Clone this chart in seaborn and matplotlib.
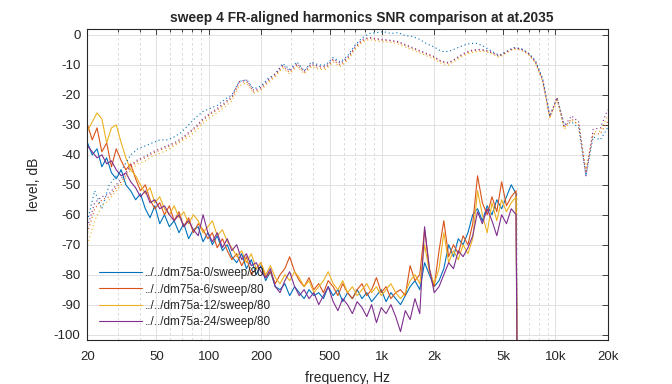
import numpy as np
import pandas as pd
import matplotlib
matplotlib.use("Agg")
import matplotlib.pyplot as plt
import seaborn as sns
from matplotlib.ticker import FixedLocator, FixedFormatter, NullFormatter

# ---------------- data ----------------
names = ["../../dm75a-0/sweep/80", "../../dm75a-6/sweep/80",
         "../../dm75a-12/sweep/80", "../../dm75a-24/sweep/80"]
colors = ["#0072BD", "#D95319", "#EDB120", "#7E2F8E"]

# harmonics (solid) frequency grid, Hz
freq_h = [20.0, 21.3, 22.7, 24.2, 25.8, 27.5, 29.3, 31.3, 33.3, 35.5,
          37.9, 40.4, 43.1, 45.9, 48.9, 52.2, 55.6, 59.3, 63.2, 67.4,
          71.8, 76.6, 81.6, 87.0, 92.8, 98.9, 105, 112, 120, 128,
          136, 145, 155, 165, 176, 188, 200, 213, 227, 242,
          258, 275, 293, 313, 333, 355, 379, 404, 431, 459,
          489, 522, 556, 593, 632, 674, 718, 766, 816, 870,
          928, 989, 1054, 1124, 1198, 1277, 1361, 1451, 1547, 1649,
          1758, 1874, 1998, 2130, 2270, 2420, 2580, 2750, 2932, 3126,
          3332, 3552, 3787, 4037, 4303, 4588, 4891, 5214, 5558, 5925,
          6000]

harm_0 = [-36, -40, -38, -44, -41, -46, -48, -45, -50, -52,
          -55, -53, -58, -61, -57, -63, -60, -64, -62, -66,
          -63, -68, -65, -64, -69, -66, -70, -67, -72, -70,
          -74, -76, -73, -78, -75, -80, -77, -82, -79, -84,
          -85, -83, -87, -84, -86, -88, -85, -87, -86, -88,
          -84, -87, -85, -89, -86, -88, -85, -88, -86, -89,
          -87, -85, -89, -86, -88, -90, -87, -84, -82, -85,
          -76, -80, -84, -82, -78, -70, -74, -68, -70, -66,
          -60, -58, -62, -57, -60, -55, -58, -54, -50, -53,
          -110]
harm_6 = [-30, -35, -31, -39, -36, -44, -38, -42, -45, -43,
          -48, -52, -50, -55, -58, -56, -60, -57, -62, -59,
          -64, -61, -66, -63, -65, -68, -66, -71, -68, -72,
          -75, -73, -77, -74, -80, -78, -76, -81, -79, -83,
          -80, -78, -74, -79, -82, -84, -81, -85, -83, -86,
          -82, -84, -87, -83, -86, -88, -85, -83, -87, -85,
          -81, -86, -84, -88, -86, -85, -87, -77, -82, -80,
          -65, -78, -84, -72, -62, -74, -70, -73, -67, -70,
          -63, -47, -56, -60, -54, -59, -49, -57, -54, -52,
          -110]
harm_12 = [-32, -29, -26, -28, -36, -31, -30, -36, -41, -45,
           -47, -50, -53, -51, -56, -54, -58, -60, -57, -61,
           -59, -63, -60, -62, -66, -64, -62, -67, -65, -69,
           -71, -74, -72, -76, -73, -78, -76, -80, -77, -81,
           -83, -80, -82, -79, -81, -84, -82, -86, -84, -82,
           -79, -83, -85, -82, -86, -84, -87, -85, -83, -86,
           -84, -87, -85, -83, -86, -88, -86, -82, -80, -83,
           -70, -79, -83, -78, -66, -76, -72, -75, -70, -73,
           -68, -52, -60, -66, -56, -62, -55, -59, -56, -54,
           -110]
harm_24 = [-37, -39, -41, -40, -43, -42, -45, -47, -46, -49,
           -51, -54, -52, -56, -55, -58, -57, -60, -62, -60,
           -64, -62, -65, -67, -60, -66, -69, -66, -71, -68,
           -72, -70, -75, -73, -77, -76, -79, -81, -78, -84,
           -86, -82, -79, -84, -87, -85, -88, -86, -90, -87,
           -84, -89, -92, -88, -90, -93, -89, -91, -94, -90,
           -96, -91, -93, -90, -94, -99, -92, -95, -88, -93,
           -64, -78, -86, -84, -80, -76, -78, -72, -74, -71,
           -67, -59, -63, -58, -62, -67, -60, -63, -58, -60,
           -110]

# frequency response (dotted) grid, Hz
freq_fr = [20.0, 22.0, 24.2, 26.7, 29.3, 32.3, 35.5, 39.1, 43.1, 47.4,
           52.2, 57.4, 63.2, 69.6, 76.6, 84.3, 92.8, 102, 112, 124,
           136, 150, 165, 182, 200, 220, 242, 267, 293, 323,
           356, 392, 431, 474, 522, 575, 632, 696, 766, 843,
           928, 1021, 1124, 1237, 1362, 1499, 1650, 1816, 1998, 2200,
           2421, 2665, 2933, 3228, 3553, 3911, 4305, 4738, 5215, 5740,
           6318, 6954, 7654, 8425, 9273, 10207, 11234, 12366, 13611, 14981,
           16489, 18149, 19976]

fr_0 = [-62, -52, -58, -50, -47, -44, -40, -38, -37, -36,
        -35, -35, -34, -32.5, -30, -27.5, -25.5, -24.5, -23.5, -21.5,
        -20, -15.5, -15, -18, -17, -14.5, -13, -9.5, -11.5, -9,
        -12, -9, -10, -10, -7.5, -9, -7, -3.5, -1, 0.5,
        0.8, 1.1, 0.5, 0.8, -0.2, -0.5, -1.5, -3, -4, -5.5,
        -5.5, -4.5, -3.5, -2.8, -2.8, -4, -5.5, -6.8, -5.5, -4.2,
        -4.5, -6, -8.5, -14.5, -27, -21, -30, -29, -31, -47,
        -34, -35, -31]
fr_6 = [-66, -58, -55, -54, -51, -48, -44, -42, -41, -39.5,
        -38.5, -37.5, -36.5, -35, -33, -31, -28.5, -26.5, -25, -23,
        -21, -16, -15.5, -19, -18, -15.5, -13.5, -10.5, -12.5, -10,
        -12.5, -10, -11, -11, -8.5, -10, -8, -4.5, -2, -1,
        -1.5, -1.8, -2, -2.5, -3.5, -4.5, -5.5, -6.5, -7.5, -9,
        -9.5, -8, -6.5, -5.5, -5, -5.2, -6, -7.2, -5.8, -4.5,
        -4.8, -6.2, -9, -15, -27.5, -21, -31, -28, -30, -46,
        -33, -33, -29]
fr_12 = [-70, -62, -57, -55, -52, -49, -45, -43, -42, -40.5,
         -39.5, -38.5, -37, -35.5, -34, -32, -29.5, -27.5, -26, -24,
         -22, -17, -16, -19.5, -18.5, -16, -14, -11, -13, -10.5,
         -13, -10.5, -11.5, -11.5, -9, -10.5, -8.5, -5, -2.5, -1.5,
         -2, -2.3, -2.5, -3, -4, -5, -6, -7, -8, -9.5,
         -10, -8.5, -7, -6, -5.5, -5.5, -6.2, -7.5, -6, -4.6,
         -5, -6.4, -9.2, -15.5, -28, -21.5, -31.5, -28.5, -30, -45,
         -32.5, -32, -27]
fr_24 = [-64, -56, -54, -53, -50, -47, -43.5, -41.5, -40.5, -39,
         -38, -37, -36, -34.5, -32.5, -30.5, -28, -26, -24.5, -22.5,
         -20.5, -15.5, -15, -18.5, -17.5, -15, -13, -10, -12, -9.5,
         -12, -9.5, -10.5, -10.5, -8, -9.5, -7.5, -4, -1.5, -0.8,
         -1.2, -1.5, -1.8, -2.2, -3.2, -4.2, -5.2, -6.2, -7.2, -8.8,
         -9.2, -7.8, -6.2, -5.2, -4.8, -5, -5.8, -7, -5.6, -4.3,
         -4.6, -6, -8.8, -14.8, -27.2, -20.8, -30.5, -27, -29, -47,
         -31.5, -31, -25]

harm = [harm_0, harm_6, harm_12, harm_24]
frs = [fr_0, fr_6, fr_12, fr_24]

x_ticks = [20, 50, 100, 200, 500, 1000, 2000, 5000, 10000, 20000]
x_ticklabels = ["20", "50", "100", "200", "500", "1k", "2k", "5k", "10k", "20k"]
y_ticks = [0, -10, -20, -30, -40, -50, -60, -70, -80, -90, -100]

title = "sweep 4 FR-aligned harmonics SNR comparison at at.2035"

# ---------------- plot ----------------
sns.set_style("white")
plt.rcParams['font.family'] = ['Liberation Sans', 'DejaVu Sans']

fig = plt.figure(figsize=(6.72, 3.84), dpi=100)
ax = fig.add_axes([0.1302, 0.1154, 0.7741, 0.8091])

for vals, c, n in zip(harm, colors, names):
    sns.lineplot(x=freq_h, y=vals, color=c, lw=0.8, ax=ax, label=n, sort=False)
for vals, c in zip(frs, colors):
    sns.lineplot(x=freq_fr, y=vals, color=c, lw=0.8, linestyle=(0, (1, 2.5)),
                 ax=ax, sort=False)

ax.set_xscale('log')
ax.set_xlim(20, 20000)
ax.set_ylim(-101.7, 2)

minor = []
for dec in [10, 100, 1000, 10000]:
    for m in range(2, 10):
        v = m * dec
        if 20 <= v <= 20000 and v not in x_ticks:
            minor.append(v)
ax.xaxis.set_major_locator(FixedLocator(x_ticks))
ax.xaxis.set_major_formatter(FixedFormatter(x_ticklabels))
ax.xaxis.set_minor_locator(FixedLocator(minor))
ax.xaxis.set_minor_formatter(NullFormatter())
ax.set_yticks(y_ticks)
ax.set_yticklabels([str(v) for v in y_ticks])

ax.grid(True, which='major', color='#dcdcdc', lw=0.6, ls='-')
ax.grid(True, which='minor', axis='x', color='#d4d4d4', lw=0.6, ls=(0, (3, 3)))
ax.set_axisbelow(True)

ax.tick_params(which='both', direction='in', top=True, right=True,
               labelsize=9.5, colors='#262626', length=4, width=0.6)
ax.tick_params(axis='x', which='major', pad=8)
ax.tick_params(axis='y', which='major', pad=5)
ax.tick_params(which='minor', length=2.5)
for s in ax.spines.values():
    s.set_color('#262626')
    s.set_linewidth(0.8)

ax.set_xlabel("frequency, Hz", fontsize=10, color='#262626', labelpad=6)
ax.set_ylabel("level, dB", fontsize=10, color='#262626', labelpad=9)
ax.set_title(title, fontsize=9.9, fontweight='bold', pad=5, x=0.527)

h, l = ax.get_legend_handles_labels()
ax.legend(h[:4], l[:4], loc='lower left', bbox_to_anchor=(0.0, 0.0),
          frameon=False, fontsize=8.5, handlelength=3.6, handletextpad=0.3,
          labelspacing=0.35, borderaxespad=0.6)

fig.savefig("out.png", dpi=100)
